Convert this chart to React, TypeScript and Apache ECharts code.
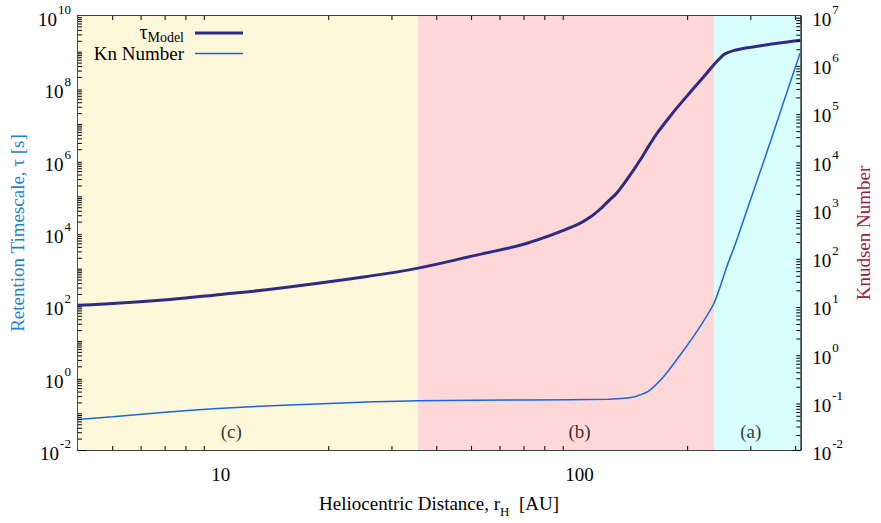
import React, { useEffect, useRef } from 'react';
import * as echarts from 'echarts';

const FONT = '"Liberation Serif", "DejaVu Serif", serif';

const X_MIN = 4;
const X_MAX = 412;
const TAU_MIN = 0.01;
const TAU_MAX = 1e10;
const KN_MIN = 0.01;
const KN_MAX = 1e7;

// Retention timescale tau [s] vs heliocentric distance [AU]
const DIST_TAU = [4, 7.2, 10, 13.6, 25.6, 35.5, 51.6, 71, 97.5, 108.4, 115.5, 120.5, 126, 131.3, 139.8, 148.9, 155.3, 165.6, 184.2, 196.2, 209, 222.7, 237, 247.7, 252, 258, 268, 281, 347.5, 412];
const TAU = [100, 146, 200, 275, 631, 1070, 2450, 5130, 16200, 30200, 51300, 77600, 117000, 195000, 470000, 1.2e6, 2.4e6, 6.31e6, 2.45e7, 5.13e7, 1.07e8, 2.19e8, 4.57e8, 7.24e8, 8.5e8, 9.55e8, 1.1e9, 1.23e9, 1.7e9, 2.14e9];

// Knudsen number vs heliocentric distance [AU]
const DIST_KN = [4, 5, 7, 9.8, 15, 26.7, 35.5, 73, 120, 136, 143, 147, 155, 163, 173, 192, 213, 237, 258, 270, 281, 333, 370, 412];
const KN = [0.0431, 0.049, 0.0603, 0.0724, 0.0851, 0.1, 0.1054, 0.1089, 0.1135, 0.1202, 0.1288, 0.138, 0.162, 0.224, 0.359, 1.0, 2.99, 11.2, 68, 166, 390, 15500, 162000, 1.74e6];

// Background regions
const REGION_EDGES = [4, 35.5, 237, 412];
const REGION_COLORS = ['#fef8da', '#fed8d8', '#d8fefe'];
const REGION_NAMES = ['(c)', '(b)', '(a)'];
const REGION_LABEL_X = [10.7, 100, 300];
const REGION_LABEL_TAU = 0.033;

// Minor ticks
const X_MINOR = [5, 6, 7, 8, 9, 20, 30, 40, 50, 60, 70, 80, 90, 200, 300, 400];
const MULTS = [2, 3, 4, 5, 6, 7, 8, 9];
const TAU_DECADES = [-2, -1, 0, 1, 2, 3, 4, 5, 6, 7, 8, 9];
const KN_DECADES = [-2, -1, 0, 1, 2, 3, 4, 5, 6];

const expLabel = (v: number) => {
  const e = Math.round(Math.log10(v));
  return `{b|10}{s|${e}}`;
};

const supRich = {
  b: { fontFamily: FONT, fontSize: 19, color: '#000', lineHeight: 26, verticalAlign: 'bottom' },
  s: { fontFamily: FONT, fontSize: 13, color: '#000', verticalAlign: 'top', padding: [0, 0, 0, 1] },
};

export default function App() {
  const ref = useRef<HTMLDivElement>(null);

  useEffect(() => {
    if (!ref.current) return;
    const chart = echarts.init(ref.current, null, { renderer: 'svg' });

    const leftMinor: number[][] = [];
    TAU_DECADES.forEach((d) => {
      if (d % 2 !== 0) leftMinor.push([X_MIN, Math.pow(10, d)]);
      MULTS.forEach((m) => leftMinor.push([X_MIN, m * Math.pow(10, d)]));
    });
    const rightMinor: number[][] = [];
    KN_DECADES.forEach((d) => {
      MULTS.forEach((m) => rightMinor.push([X_MAX, m * Math.pow(10, d)]));
    });

    const tickStyle = { stroke: '#000', lineWidth: 1 };

    const axisLine = { show: true, lineStyle: { color: '#000', width: 1.5 } };
    const axisTick = { show: true, inside: true, length: 8, lineStyle: { color: '#000', width: 1 } };

    const option: any = {
      animation: false,
      backgroundColor: '#fff',
      textStyle: { fontFamily: FONT },
      grid: { left: 77, right: 74, top: 16, bottom: 67, containLabel: false },
      legend: [
        {
          data: ['tau'],
          right: 633,
          top: 17,
          orient: 'vertical',
          align: 'right',
          icon: 'rect',
          itemWidth: 48,
          itemHeight: 3,
          selectedMode: false,
          formatter: () => '{t|τ}{m|Model}',
          textStyle: {
            padding: [0, 6, 0, 0],
            rich: {
              t: { fontFamily: FONT, fontSize: 20, color: '#000', lineHeight: 22, verticalAlign: 'top' },
              m: { fontFamily: FONT, fontSize: 14, color: '#000', verticalAlign: 'bottom' },
            },
          },
        },
        {
          data: ['kn'],
          right: 633,
          top: 39,
          orient: 'vertical',
          align: 'right',
          icon: 'rect',
          itemWidth: 48,
          itemHeight: 1.5,
          selectedMode: false,
          formatter: () => 'Kn Number',
          textStyle: { fontFamily: FONT, fontSize: 19, color: '#000', padding: [0, 6, 0, 0] },
        },
      ],
      xAxis: [
        {
          type: 'log',
          logBase: 10,
          min: X_MIN,
          max: X_MAX,
          position: 'bottom',
          axisLine,
          axisTick,
          splitLine: { show: false },
          axisLabel: {
            fontFamily: FONT,
            fontSize: 19,
            color: '#000',
            margin: 15,
            showMinLabel: false,
            showMaxLabel: false,
            formatter: (v: number) => {
              const l = Math.log10(v);
              return Math.abs(l - Math.round(l)) < 1e-6 ? String(Math.round(v)) : '';
            },
          },
          name: '{a|Heliocentric Distance, r}{h|H}{a|  [AU]}',
          nameLocation: 'middle',
          nameGap: 44,
          nameTextStyle: {
            rich: {
              a: { fontFamily: FONT, fontSize: 19, color: '#000', lineHeight: 24, verticalAlign: 'top' },
              h: { fontFamily: FONT, fontSize: 13, color: '#000', verticalAlign: 'bottom' },
            },
          },
        },
        {
          type: 'log',
          logBase: 10,
          min: X_MIN,
          max: X_MAX,
          position: 'top',
          axisLine,
          axisTick,
          splitLine: { show: false },
          axisLabel: { show: false },
        },
      ],
      yAxis: [
        {
          type: 'log',
          logBase: 10,
          min: TAU_MIN,
          max: TAU_MAX,
          interval: 2,
          position: 'left',
          axisLine,
          axisTick,
          splitLine: { show: false },
          axisLabel: {
            margin: 7,
            formatter: expLabel,
            rich: supRich,
          },
          name: 'Retention Timescale, τ [s]',
          nameLocation: 'middle',
          nameRotate: 90,
          nameGap: 43,
          nameTextStyle: { fontFamily: FONT, fontSize: 19, color: '#1e82d2' },
        },
        {
          type: 'log',
          logBase: 10,
          min: KN_MIN,
          max: KN_MAX,
          interval: 1,
          position: 'right',
          axisLine,
          axisTick,
          splitLine: { show: false },
          axisLabel: {
            margin: 12,
            formatter: expLabel,
            rich: supRich,
          },
          name: 'Knudsen Number',
          nameLocation: 'middle',
          nameRotate: 90,
          nameGap: 52,
          nameTextStyle: { fontFamily: FONT, fontSize: 19, color: '#a0193c' },
        },
      ],
      series: [
        {
          name: 'regions',
          type: 'scatter',
          xAxisIndex: 0,
          yAxisIndex: 0,
          z: 1,
          symbolSize: 0,
          silent: true,
          data: REGION_NAMES.map((n, i) => ({ name: n, value: [REGION_LABEL_X[i], REGION_LABEL_TAU] })),
          label: {
            show: true,
            position: 'inside',
            formatter: '{b}',
            fontFamily: FONT,
            fontSize: 19,
            color: '#000',
          },
          markArea: {
            silent: true,
            data: REGION_COLORS.map((c, i) => [
              { xAxis: REGION_EDGES[i], itemStyle: { color: c, opacity: 1 } },
              { xAxis: REGION_EDGES[i + 1] },
            ]),
          },
        },
        {
          name: 'xminor',
          type: 'custom',
          xAxisIndex: 0,
          yAxisIndex: 0,
          silent: true,
          z: 5,
          clip: false,
          data: X_MINOR.map((v) => [v, TAU_MIN]),
          renderItem: (params: any, api: any) => {
            const v = api.value(0);
            const b = api.coord([v, TAU_MIN]);
            const t = api.coord([v, TAU_MAX]);
            return {
              type: 'group',
              children: [
                { type: 'line', shape: { x1: b[0], y1: b[1], x2: b[0], y2: b[1] - 4 }, style: tickStyle },
                { type: 'line', shape: { x1: t[0], y1: t[1], x2: t[0], y2: t[1] + 4 }, style: tickStyle },
              ],
            };
          },
        },
        {
          name: 'lminor',
          type: 'custom',
          xAxisIndex: 0,
          yAxisIndex: 0,
          silent: true,
          z: 5,
          clip: false,
          data: leftMinor,
          renderItem: (params: any, api: any) => {
            const p = api.coord([X_MIN, api.value(1)]);
            return { type: 'line', shape: { x1: p[0], y1: p[1], x2: p[0] + 4, y2: p[1] }, style: tickStyle };
          },
        },
        {
          name: 'rminor',
          type: 'custom',
          xAxisIndex: 0,
          yAxisIndex: 1,
          silent: true,
          z: 5,
          clip: false,
          data: rightMinor,
          renderItem: (params: any, api: any) => {
            const p = api.coord([X_MAX, api.value(1)]);
            return { type: 'line', shape: { x1: p[0], y1: p[1], x2: p[0] - 4, y2: p[1] }, style: tickStyle };
          },
        },
        {
          name: 'kn',
          type: 'line',
          xAxisIndex: 0,
          yAxisIndex: 1,
          z: 3,
          symbol: 'none',
          smooth: 0.25,
          lineStyle: { color: '#1a66e0', width: 1.5 },
          itemStyle: { color: '#1a66e0' },
          data: DIST_KN.map((d, i) => [d, KN[i]]),
        },
        {
          name: 'tau',
          type: 'line',
          xAxisIndex: 0,
          yAxisIndex: 0,
          z: 4,
          symbol: 'none',
          smooth: 0.4,
          lineStyle: { color: '#2f2a85', width: 3 },
          itemStyle: { color: '#2f2a85' },
          data: DIST_TAU.map((d, i) => [d, TAU[i]]),
        },
      ],
    };

    chart.setOption(option);
    return () => chart.dispose();
  }, []);

  return <div ref={ref} style={{ width: 881, height: 523, position: 'absolute', left: 0, top: 0 }} />;
}
